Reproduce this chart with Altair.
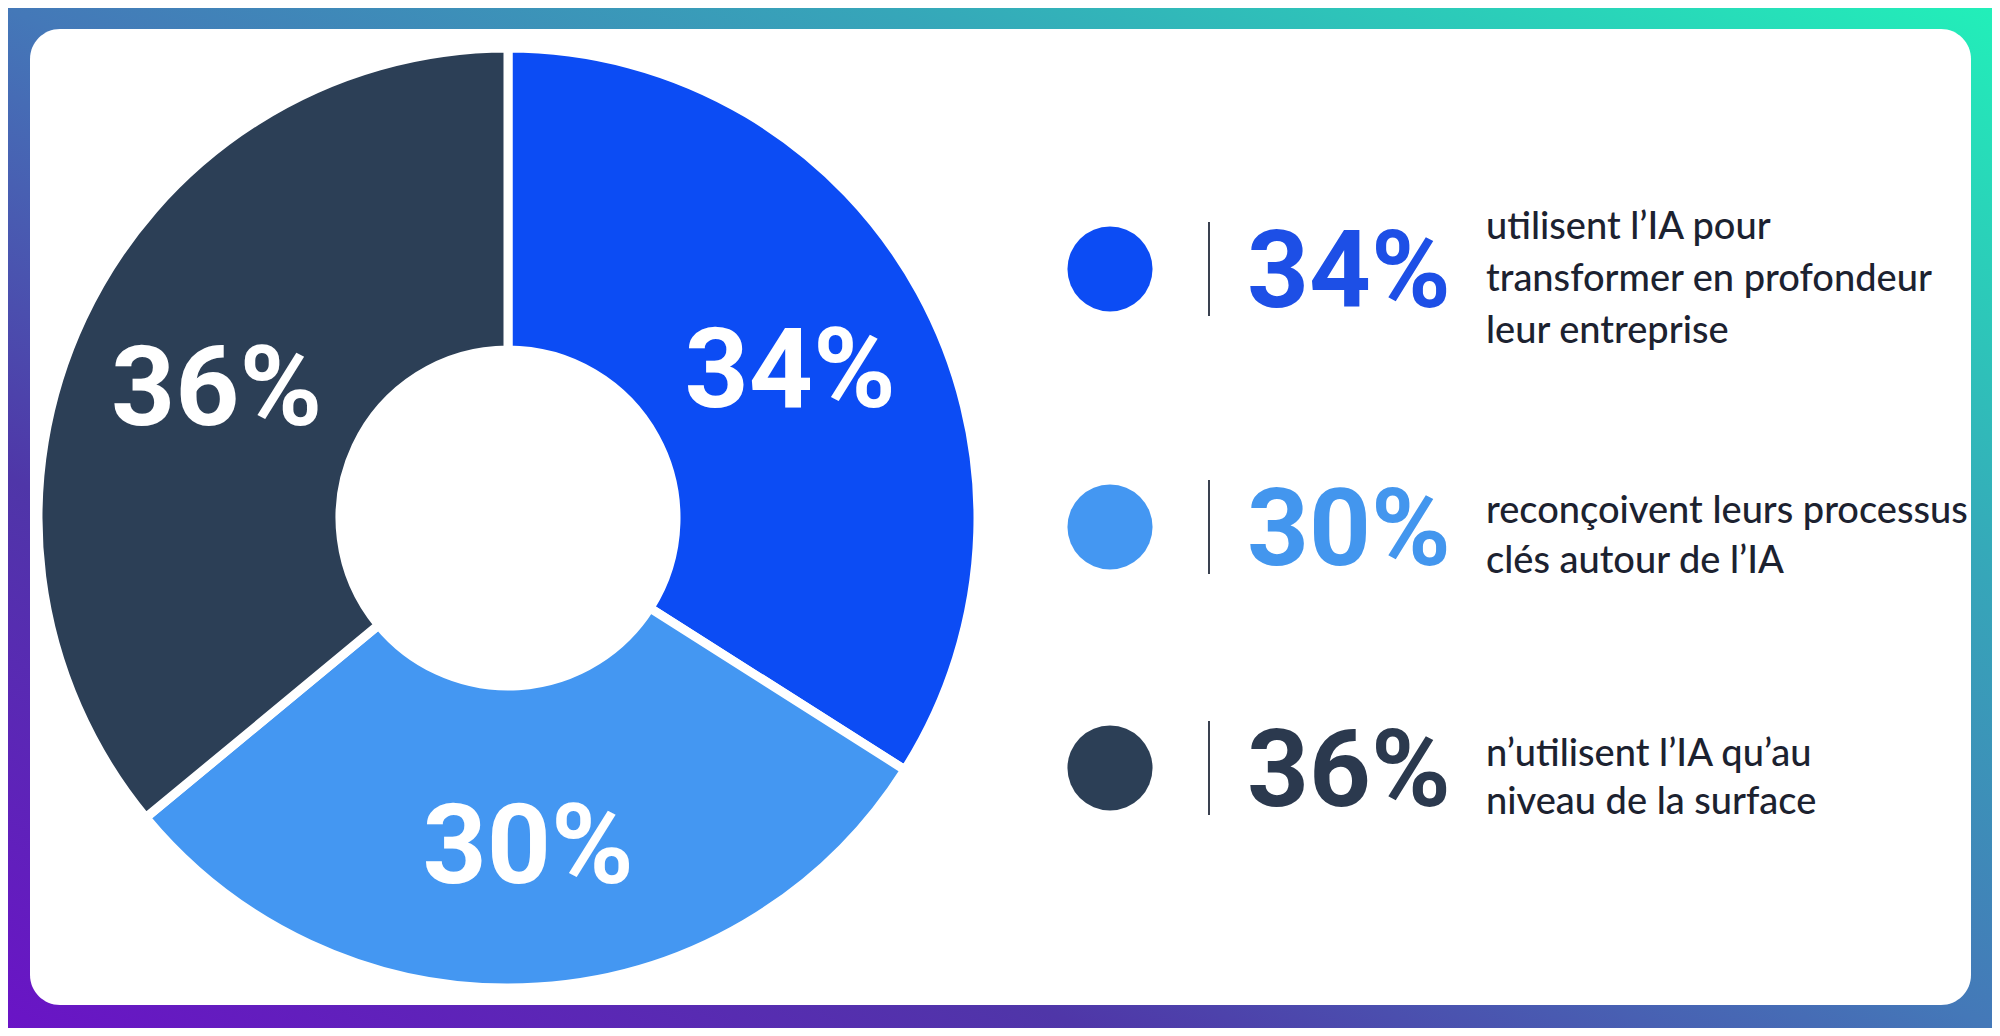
import altair as alt
import pandas as pd

# ---- data ----
categories = ["transformation", "reconception", "surface"]
values = [34, 30, 36]
pct_labels = ["34%", "30%", "36%"]
slice_colors = ["#0c4cf4", "#4497f2", "#2c3f56"]
pct_text_colors = ["#1d4fe6", "#4396ee", "#2b394e"]
descriptions = [
    "utilisent l’IA pour\ntransformer en profondeur\nleur entreprise",
    "reconçoivent leurs processus\nclés autour de l’IA",
    "n’utilisent l’IA qu’au\nniveau de la surface",
]
rows = [0, 1, 2]

df = pd.DataFrame({
    "cat": categories,
    "value": values,
    "pct": pct_labels,
    "order": rows,
    "row": rows,
    "tcolor": pct_text_colors,
})

# one record per description line, centred on its row
line_records = []
for r, d in zip(rows, descriptions):
    parts = d.split("\n")
    n = len(parts)
    for i, t in enumerate(parts):
        line_records.append({"row": r, "lineoff": i - (n - 1) / 2, "line": t})
lines_df = pd.DataFrame(line_records)

one = pd.DataFrame({"k": [0]})

W, H = 1984, 1020
color_scale = alt.Scale(domain=categories, range=slice_colors)
row_scale = alt.Scale(domain=[0, 1, 2], range=[261, 519, 760])

bg = alt.Chart(one).mark_rect(
    color=alt.Gradient(
        gradient="linear",
        stops=[
            alt.GradientStop(color="#6a14c6", offset=0),
            alt.GradientStop(color="#4f36a8", offset=0.27),
            alt.GradientStop(color="#4478b8", offset=0.5),
            alt.GradientStop(color="#36a6b9", offset=0.72),
            alt.GradientStop(color="#22efb9", offset=1),
        ],
        x1=0, y1=1, x2=1, y2=0,
    )
).encode(x=alt.value(0), x2=alt.value(W), y=alt.value(0), y2=alt.value(H))

card = alt.Chart(one).mark_rect(color="white", cornerRadius=30).encode(
    x=alt.value(22), x2=alt.value(1963), y=alt.value(21), y2=alt.value(997)
)

arcs = alt.Chart(df).mark_arc(
    outerRadius=470, innerRadius=168, stroke="white", strokeWidth=9
).encode(
    theta=alt.Theta("value:Q", stack=True),
    order=alt.Order("order:Q"),
    color=alt.Color("cat:N", scale=color_scale, legend=None),
    x=alt.value(500), y=alt.value(510),
)

arc_labels = alt.Chart(df).mark_text(
    radius=322, fontSize=112, font="Roboto", fontWeight="bold", color="white",
    align="center", baseline="middle", dy=10,
).encode(
    theta=alt.Theta("value:Q", stack=True),
    order=alt.Order("order:Q"),
    text="pct:N",
    x=alt.value(500), y=alt.value(510),
)

dots = alt.Chart(df).mark_circle(size=7240, opacity=1).encode(
    x=alt.value(1102),
    y=alt.Y("row:Q", scale=row_scale, axis=None),
    color=alt.Color("cat:N", scale=color_scale, legend=None),
)

seps = alt.Chart(df).mark_point(
    shape="M0,-1L0,1", size=8836, filled=False, strokeWidth=2, color="#3a4150", opacity=1
).encode(
    x=alt.value(1201),
    y=alt.Y("row:Q", scale=row_scale, axis=None),
)

pcts = alt.Chart(df).mark_text(
    align="left", baseline="middle", fontSize=108, font="Roboto", fontWeight="bold", dy=6
).encode(
    x=alt.value(1239),
    y=alt.Y("row:Q", scale=row_scale, axis=None),
    text="pct:N",
    color=alt.Color("tcolor:N", scale=None),
)

descs = alt.Chart(lines_df).transform_calculate(
    ypos="datum.row + datum.lineoff * 0.2"
).mark_text(
    align="left", baseline="middle", fontSize=38, font="Lato", fontWeight=500,
    color="#1c2230", dy=11,
).encode(
    x=alt.value(1478),
    y=alt.Y("ypos:Q", scale=row_scale, axis=None),
    text="line:N",
)

chart = alt.layer(bg, card, arcs, arc_labels, dots, seps, pcts, descs).properties(
    width=W, height=H, padding=0, autosize="none"
).configure_view(stroke=None)

chart.save("out.html", embed_options={"renderer": "svg", "actions": False})
